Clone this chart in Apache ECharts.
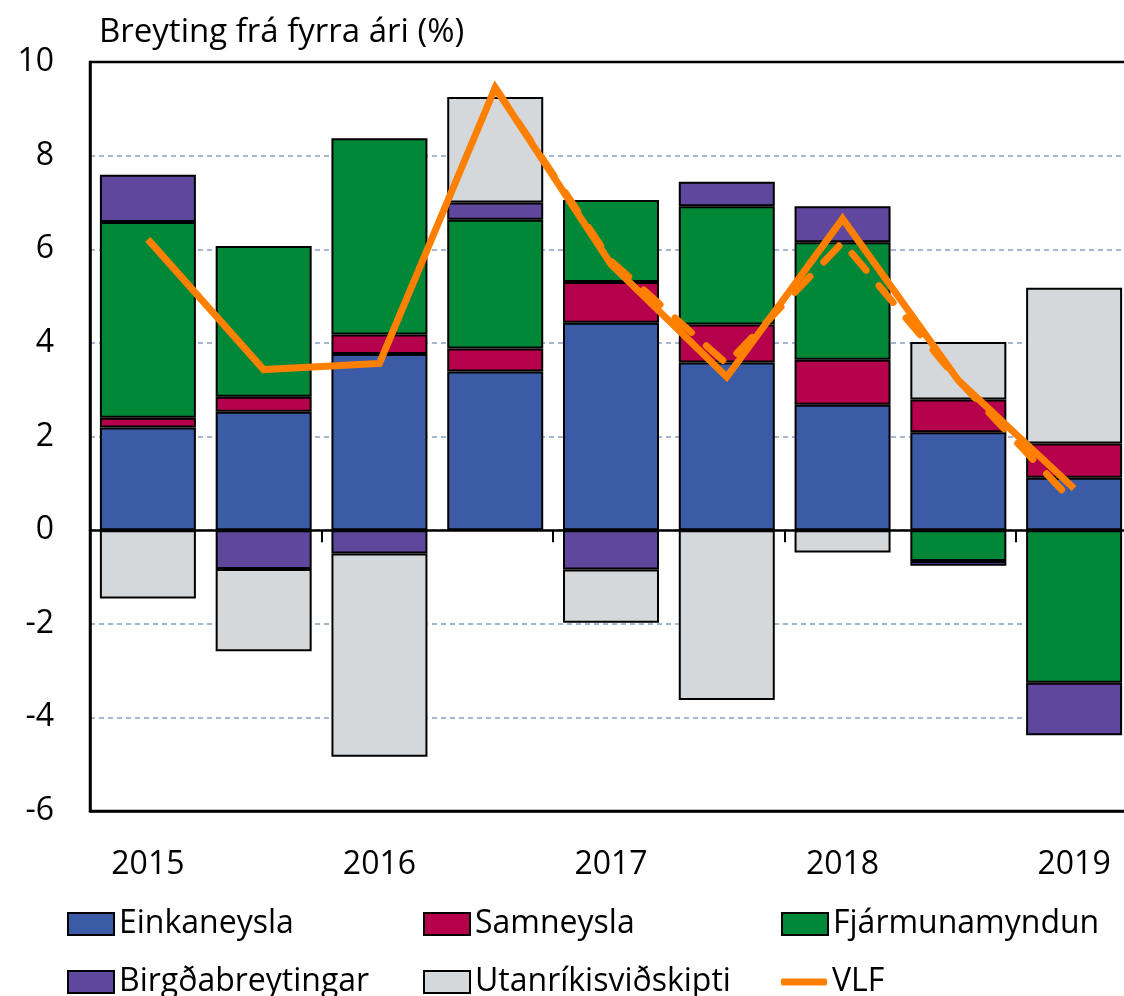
<!DOCTYPE html>
<html style="height: 100%">
<head>
    <meta charset="utf-8">
</head>
<body style="height: 100%; margin: 0">
<div id="container" style="width: 1124px; height: 996px"></div>

<script type="text/javascript" src="https://cdn.jsdelivr.net/npm/echarts@6/dist/echarts.min.js"></script>
<script type="text/javascript">
    // half-year periods, the year is only written under the first half
    var periods = ['2015 H1', '2015 H2', '2016 H1', '2016 H2', '2017 H1', '2017 H2', '2018 H1', '2018 H2', '2019 H1'];
    var yearLabels = ['2015', '', '2016', '', '2017', '', '2018', '', '2019'];

    var einkaneysla = [2.19, 2.53, 3.76, 3.39, 4.43, 3.58, 2.68, 2.09, 1.12];
    var samneysla = [0.21, 0.32, 0.42, 0.49, 0.87, 0.81, 0.96, 0.70, 0.73];
    var fjarmunamyndun = [4.18, 3.22, 4.19, 2.75, 1.75, 2.53, 2.51, -0.66, -3.26];
    var birgdabreytingar = [1.01, -0.83, -0.50, 0.37, -0.84, 0.52, 0.77, -0.10, -1.12];
    var utanrikisvidskipti = [-1.46, -1.76, -4.34, 2.25, -1.14, -3.63, -0.48, 1.23, 3.33];
    var vlf = [6.21, 3.43, 3.56, 9.45, 5.68, 3.27, 6.65, 3.20, 0.89];
    var vlfDashed = [null, null, null, 9.45, 5.75, 3.55, 6.15, 3.20, 0.58];

    var dom = document.getElementById("container");
    var myChart = echarts.init(dom);
    var font = 'Open Sans';

    function barSeries(name, data, color) {
        return {
            name: name,
            type: 'bar',
            stack: 'total',
            data: data,
            barWidth: 96,
            itemStyle: {color: color, borderColor: '#000', borderWidth: 2}
        };
    }

    // one legend per entry so the three columns line up like the original
    function legendItem(left, top, item, iconHeight) {
        return {
            left: left, top: top, padding: 0,
            itemWidth: 46, itemHeight: iconHeight || 22,
            textStyle: {fontFamily: font, fontSize: 32, color: '#000', lineHeight: 26},
            data: [item]
        };
    }

    var option = {
        animation: false,
        textStyle: {fontFamily: font},
        title: {
            text: 'Breyting frá fyrra ári (%)',
            left: 94,
            top: 11,
            textStyle: {fontFamily: font, fontSize: 33, fontWeight: 'normal', color: '#000'}
        },
        legend: [
            legendItem(67, 908, {name: 'Einkaneysla', icon: 'rect'}),
            legendItem(423, 908, {name: 'Samneysla', icon: 'rect'}),
            legendItem(781, 908, {name: 'Fjármunamyndun', icon: 'rect'}),
            legendItem(67, 966, {name: 'Birgðabreytingar', icon: 'rect'}),
            legendItem(423, 966, {name: 'Utanríkisviðskipti', icon: 'rect'}),
            legendItem(781, 966, {name: 'VLF', icon: 'roundRect', itemStyle: {color: '#ff8000', borderWidth: 0}}, 7)
        ],
        grid: {
            left: 90, top: 62, width: 1042, height: 749,
            outerBoundsMode: 'none',
            show: true, borderColor: '#000', borderWidth: 2.5, z: 1
        },
        xAxis: [{
            type: 'category',
            data: periods,
            position: 'bottom',
            axisLine: {onZero: false, lineStyle: {color: '#000', width: 2.5}},
            axisTick: {show: false},
            axisLabel: {
                interval: 0,
                margin: 38,
                fontSize: 32,
                color: '#000',
                formatter: function (v, i) { return yearLabels[i]; }
            }
        }, {
            type: 'category',
            data: periods,
            position: 'top',
            axisLine: {onZero: true, lineStyle: {color: '#000', width: 2.5}},
            axisTick: {
                show: true, inside: true, length: 12,
                lineStyle: {color: '#000', width: 2},
                interval: function (i) { return i > 0 && i % 2 === 0; }
            },
            axisLabel: {show: false}
        }],
        yAxis: {
            type: 'value',
            min: -6,
            max: 10,
            interval: 2,
            axisLine: {show: true, lineStyle: {color: '#000', width: 2.5}},
            axisTick: {show: false},
            axisLabel: {fontSize: 32, color: '#000', margin: 36},
            splitLine: {
                show: true, showMinLine: false, showMaxLine: false,
                lineStyle: {color: '#8aa0c2', width: 1.5, type: [5, 4]}
            }
        },
        series: [
            barSeries('Einkaneysla', einkaneysla, '#3b5ba7'),
            barSeries('Samneysla', samneysla, '#b5004b'),
            barSeries('Fjármunamyndun', fjarmunamyndun, '#008738'),
            barSeries('Birgðabreytingar', birgdabreytingar, '#5e479d'),
            barSeries('Utanríkisviðskipti', utanrikisvidskipti, '#d5d8db'),
            {
                name: 'VLF',
                type: 'line',
                data: vlf,
                symbol: 'none',
                z: 5,
                color: '#ff8000',
                lineStyle: {color: '#ff8000', width: 7, join: 'miter'}
            },
            {
                name: 'VLF dashed',
                type: 'line',
                data: vlfDashed,
                symbol: 'none',
                z: 4,
                color: '#ff8000',
                lineStyle: {color: '#ff8000', width: 7, type: [22, 20], cap: 'round'}
            }
        ]
    };

    if (option && typeof option === 'object') {
        myChart.setOption(option);
    }
</script>
</body>
</html>
